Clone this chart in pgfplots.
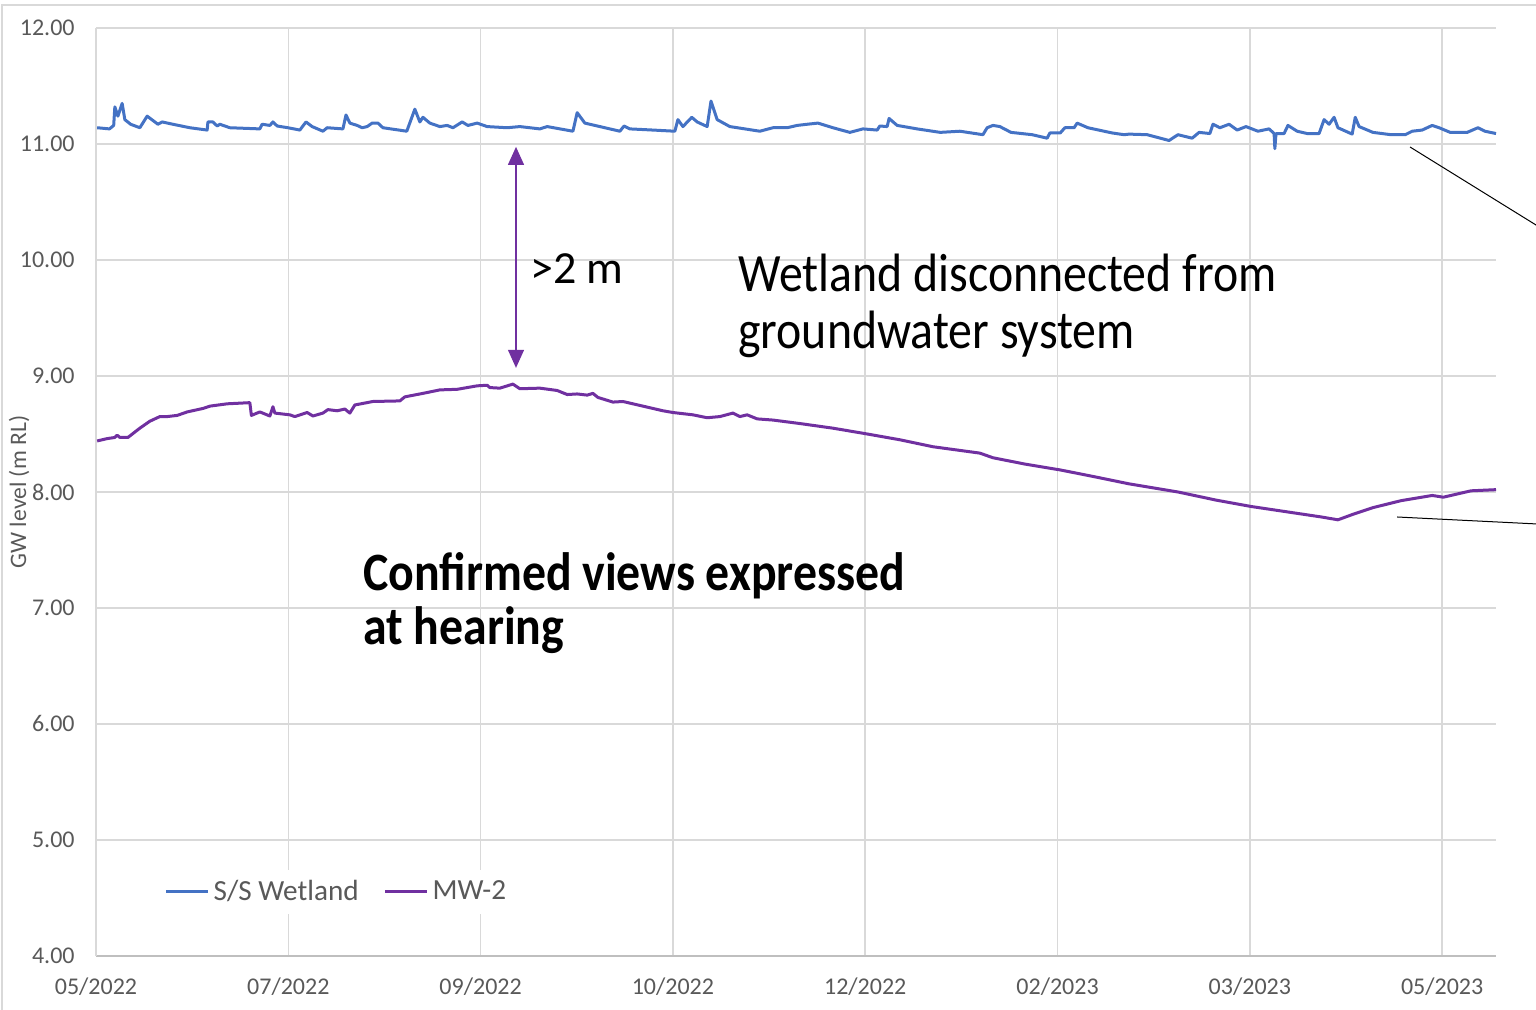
\documentclass[border=0pt]{standalone}
\usepackage{fontspec}
\setmainfont{Carlito}
\newfontfamily\bigfont[FakeStretch=0.885]{Carlito}
\usepackage{pgfplots}
\pgfplotsset{compat=1.18}
\usetikzlibrary{arrows.meta}
\definecolor{wblue}{HTML}{4472C4}
\definecolor{mwpurple}{HTML}{7030A0}
\definecolor{gridgray}{HTML}{D9D9D9}
\definecolor{axgray}{HTML}{BFBFBF}
\definecolor{txtgray}{HTML}{595959}
\begin{document}
\begin{tikzpicture}
\begin{axis}[
  name=ax,
  scale only axis, width=700pt, height=464pt,
  xmin=0, xmax=364, ymin=4, ymax=12,
  clip=false,
  axis x line*=bottom, axis y line*=left,
  x axis line style={draw=axgray, line width=1pt, -},
  y axis line style={draw=gridgray, line width=0.75pt, -},
  major tick length=0pt,
  xtick={0,50,...,350},
  xticklabels={05/2022,07/2022,09/2022,10/2022,12/2022,02/2023,03/2023,05/2023},
  ytick={4,5,...,12},
  yticklabels={4.00,5.00,6.00,7.00,8.00,9.00,10.00,11.00,12.00},
  grid=major,
  major grid style={draw=gridgray, line width=0.75pt},
  xticklabel style={font=\fontsize{12}{14}\selectfont, text=txtgray, anchor=base, inner sep=0pt, yshift=-19.5pt},
  yticklabel style={font=\fontsize{12}{14}\selectfont, text=txtgray, anchor=east, inner sep=0pt, xshift=-10.5pt},
  ylabel={GW level (m RL)},
  ylabel style={font=\fontsize{11.8}{13}\selectfont, text=txtgray, at={(rel axis cs:-0.055,0.5)}, anchor=center},
  legend columns=2,
  legend style={at={(rel axis cs:0.043,0.069)}, anchor=west, draw=none, fill=white,
    font=\fontsize{14.6}{16}\selectfont, text=txtgray, inner xsep=4pt, inner ysep=3pt,
    /tikz/every even column/.append style={column sep=10.5pt}},
  legend image code/.code={\draw[#1] (0pt,0pt) -- (21pt,0pt);},
]
\addplot[wblue, line width=1.5pt, line join=round] coordinates {
(0.3,11.14) (3.5,11.13) (4.6,11.16) (4.9,11.32) (5.7,11.24) (6.2,11.29) (6.8,11.35) (7.5,11.21)
(9.0,11.17) (11.4,11.14) (13.3,11.24) (16.1,11.17) (17.2,11.19) (20.0,11.17) (24.4,11.14)
(28.9,11.12) (29.1,11.19) (30.4,11.19) (31.5,11.155) (32.2,11.17) (34.8,11.14) (42.6,11.13)
(43.2,11.17) (45.2,11.16) (46.0,11.19) (47.1,11.155) (49.9,11.14) (53.0,11.12) (54.6,11.19)
(56.2,11.15) (59.0,11.11) (60.1,11.14) (64.2,11.13) (65.0,11.25) (66.0,11.18) (67.9,11.16)
(69.2,11.14) (70.5,11.15) (71.8,11.18) (73.3,11.18) (74.6,11.14) (80.8,11.11) (82.9,11.30)
(84.2,11.19) (85.0,11.23) (86.8,11.18) (89.4,11.15) (91.3,11.16) (92.8,11.14) (95.2,11.19)
(96.7,11.16) (99.1,11.18) (101.7,11.15) (106.9,11.14) (110.2,11.15) (115.4,11.13) (117.3,11.15)
(124.0,11.11) (125.1,11.27) (127.1,11.18) (131.0,11.15) (136.2,11.11) (137.3,11.155) (138.8,11.13)
(144.8,11.12) (150.5,11.11) (151.3,11.21) (152.6,11.15) (154.9,11.23) (156.3,11.19) (158.9,11.15)
(159.9,11.37) (161.5,11.21) (164.8,11.15) (172.6,11.11) (176.0,11.14) (179.7,11.14) (182.3,11.16)
(184.9,11.17) (187.7,11.18) (191.6,11.14) (196.0,11.10) (199.4,11.13) (203.1,11.12) (203.8,11.155)
(205.7,11.15) (206.2,11.22) (208.3,11.16) (213.5,11.13) (219.5,11.10) (224.6,11.11) (230.6,11.08)
(231.7,11.14) (233.2,11.16) (235.0,11.15) (237.9,11.10) (243.4,11.08) (247.3,11.05) (248.0,11.095)
(250.7,11.095) (251.9,11.14) (254.3,11.14) (255.1,11.18) (257.9,11.14) (264.2,11.095) (267.3,11.08)
(268.6,11.085) (273.3,11.08) (279.0,11.03) (281.3,11.08) (285.0,11.05) (286.8,11.10) (289.6,11.09)
(290.4,11.17) (292.2,11.14) (294.6,11.17) (296.7,11.12) (299.0,11.15) (302.1,11.11) (305.0,11.13)
(306.3,11.09) (306.5,10.96) (306.8,11.09) (308.9,11.09) (309.9,11.16) (312.3,11.11) (314.9,11.09)
(318.0,11.09) (319.3,11.21) (320.6,11.17) (321.9,11.23) (322.9,11.14) (326.6,11.085) (327.4,11.23)
(328.4,11.15) (332.0,11.10) (336.7,11.08) (340.4,11.08) (342.2,11.11) (344.8,11.12) (347.4,11.16)
(349.2,11.14) (352.1,11.10) (356.5,11.10) (359.3,11.14) (361.1,11.11) (364.0,11.09)
};
\addlegendentry{S/S Wetland}
\addplot[mwpurple, line width=1.5pt, line join=round] coordinates {
(0.3,8.44) (2.9,8.46) (4.9,8.47) (5.5,8.49) (6.2,8.47) (8.3,8.47) (11.4,8.55) (14.0,8.61)
(16.6,8.65) (18.5,8.65) (21.1,8.66) (23.7,8.69) (27.8,8.72) (29.6,8.74) (34.1,8.76) (40.0,8.77)
(40.4,8.66) (42.6,8.69) (45.2,8.655) (46.0,8.735) (46.5,8.68) (50.4,8.665) (51.7,8.65) (54.9,8.685)
(56.4,8.655) (59.0,8.68) (60.3,8.71) (62.7,8.70) (64.7,8.715) (66.0,8.68) (67.3,8.75) (72.0,8.78)
(79.0,8.785) (80.3,8.82) (85.0,8.85) (89.4,8.88) (93.9,8.885) (99.1,8.915) (101.7,8.92) (102.4,8.90)
(105.0,8.895) (108.4,8.93) (110.2,8.89) (115.4,8.895) (119.9,8.875) (122.5,8.84) (125.1,8.845)
(127.7,8.835) (129.2,8.85) (130.5,8.815) (134.4,8.775) (137.0,8.78) (142.2,8.74) (147.4,8.70)
(150.0,8.685) (155.2,8.665) (158.9,8.64) (162.2,8.65) (165.6,8.68) (167.4,8.65) (169.3,8.665)
(171.9,8.63) (176.0,8.62) (183.0,8.59) (191.6,8.55) (200.5,8.50) (209.0,8.45) (217.6,8.39)
(229.8,8.335) (233.2,8.295) (241.6,8.24) (250.7,8.19) (259.8,8.13) (268.6,8.07) (281.3,8.00)
(291.2,7.93) (300.3,7.875) (309.4,7.83) (318.5,7.785) (322.9,7.76) (326.6,7.805) (332.0,7.865)
(339.3,7.925) (347.4,7.97) (350.3,7.955) (357.5,8.01) (364.0,8.02)
};
\addlegendentry{MW-2}
% annotations
\draw[mwpurple, line width=0.6pt, {Triangle[length=9pt,width=8pt]}-{Triangle[length=9pt,width=8pt]}]
  (axis cs:109.2,10.975) -- (axis cs:109.2,9.07);
\node[anchor=base west, inner sep=0pt, font=\fontsize{23}{26}\selectfont] at (axis cs:112.8,9.80) {>2 m};
\node[anchor=base west, inner sep=0pt, align=left, font=\bigfont\fontsize{27}{28.5}\selectfont]
  at (axis cs:166.9,9.233) {Wetland disconnected from\\groundwater system};
\node[anchor=base west, inner sep=0pt, align=left, font=\bigfont\bfseries\fontsize{27}{27.3}\selectfont]
  at (axis cs:69.4,6.681) {Confirmed views expressed\\at hearing};
\draw[black, line width=0.5pt] (rel axis cs:0.93857,0.87177) -- (rel axis cs:1.035,0.78168);
\draw[black, line width=0.5pt] (rel axis cs:0.92929,0.47306) -- (rel axis cs:1.035,0.46509);
\draw[gridgray, line width=0.75pt] (rel axis cs:-0.06714,-0.08) -- (rel axis cs:-0.06714,1.02478) -- (rel axis cs:1.05,1.02478);
\coordinate (BL) at (rel axis cs:-0.06857,-0.05819);
\coordinate (TR) at (rel axis cs:1.02857,1.03017);
\end{axis}
\pgfresetboundingbox
\path[use as bounding box] (BL) rectangle (TR);
\end{tikzpicture}
\end{document}
